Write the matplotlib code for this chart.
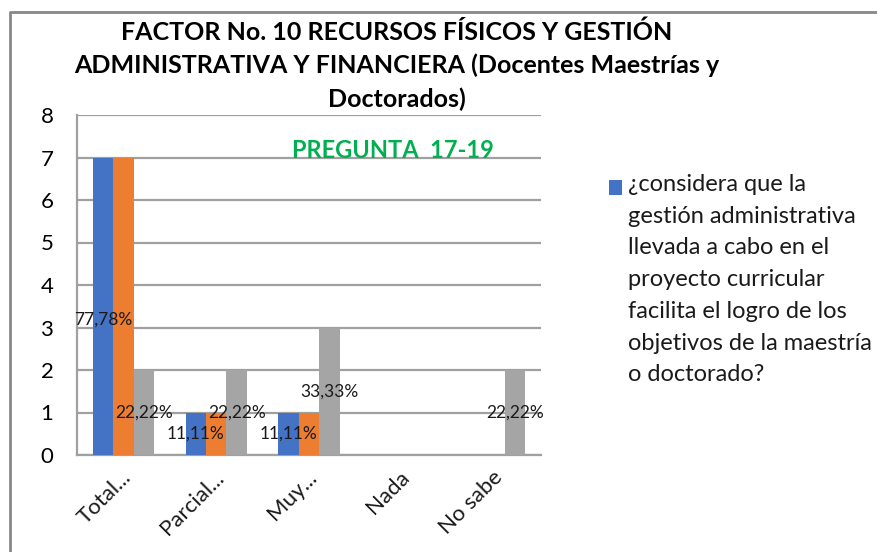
import matplotlib
matplotlib.use("Agg")
import matplotlib.pyplot as plt
import matplotlib.transforms as mtransforms
from matplotlib.lines import Line2D
from matplotlib.patches import Rectangle
import numpy as np

plt.rcParams['font.family'] = ['Lato', 'DejaVu Sans']

categories = ["Total...", "Parcial...", "Muy...", "Nada", "No sabe"]
serie_azul = [7, 1, 1, 0, 0]
serie_naranja = [7, 1, 1, 0, 0]
serie_gris = [2, 2, 3, 0, 2]
etiquetas_azul = ["77,78%", "11,11%", "11,11%", "", ""]
etiquetas_gris = ["22,22%", "22,22%", "33,33%", "", "22,22%"]
yticks = [0, 1, 2, 3, 4, 5, 6, 7, 8]
title = ("FACTOR No. 10 RECURSOS FÍSICOS Y GESTIÓN\n"
         "ADMINISTRATIVA Y FINANCIERA (Docentes Maestrías y\n"
         "Doctorados)")
legend_label = ("¿considera que la\ngestión administrativa\nllevada a cabo en el\n"
                "proyecto curricular\nfacilita el logro de los\nobjetivos de la maestría\n"
                "o doctorado?")
annotation = "PREGUNTA  17-19"

W, H = 878, 552
fig = plt.figure(figsize=(W / 100, H / 100), dpi=100)
fig.patch.set_facecolor('white')

ax = fig.add_axes([77 / W, 1 - 455 / H, 464 / W, 340 / H])

x = np.arange(len(categories))
bw = 0.22
blue, orange, gray = '#4472C4', '#ED7D31', '#A5A5A5'
b1 = ax.bar(x - bw, serie_azul, bw, color=blue, label=legend_label, zorder=3)
b2 = ax.bar(x, serie_naranja, bw, color=orange, zorder=3)
b3 = ax.bar(x + bw, serie_gris, bw, color=gray, zorder=3)

ax.set_xlim(-0.5, len(categories) - 0.5)
ax.set_ylim(0, 8)
ax.set_yticks(yticks)
ax.yaxis.grid(True, color='#a0a0a0', lw=1.6, zorder=0)
ax.set_axisbelow(True)
for s in ['top', 'right']:
    ax.spines[s].set_visible(False)
for s in ['left', 'bottom']:
    ax.spines[s].set_color('#a0a0a0')
    ax.spines[s].set_linewidth(1.6)
ax.tick_params(axis='y', length=0, pad=17, labelsize=16, labelcolor='black')
ax.tick_params(axis='x', length=0, pad=14)
ax.set_xticks(x)
ax.set_xticklabels(categories, rotation=45, ha='right', va='center',
                   rotation_mode='anchor', fontsize=16, color='#1a1a1a')
offset = mtransforms.ScaledTranslation(0.05, 0, fig.dpi_scale_trans)
for lbl in ax.get_xticklabels():
    lbl.set_transform(lbl.get_transform() + offset)

# data labels (centered on bars)
for i, t in enumerate(etiquetas_azul):
    if t:
        yv = serie_azul[i] / 2
        dy = -13 if serie_azul[i] > 5 else 0
        ax.annotate(t, (x[i] - bw, yv), xytext=(0, dy), textcoords='offset pixels',
                    ha='center', va='center', fontsize=12.5, color='#1a1a1a', zorder=5)
for i, t in enumerate(etiquetas_gris):
    if t:
        ax.annotate(t, (x[i] + bw, serie_gris[i] / 2), ha='center', va='center',
                    fontsize=12.5, color='#1a1a1a', zorder=5)

# title
fig.text(397 / W, 1 - 20 / H, title, ha='center', va='top', fontsize=18,
         fontweight='bold', linespacing=1.52, color='black')

# green annotation
fig.text(393 / W, 1 - 158 / H, annotation, ha='center', va='baseline', fontsize=17,
         fontweight='bold', color='#00B050')

# legend (single entry, blue series)
fig.patches.append(Rectangle((609 / W, 1 - 195 / H), 13 / W, 15 / H,
                             transform=fig.transFigure, facecolor=blue,
                             edgecolor='none'))
fig.text(628 / W, 1 - 174 / H, legend_label, ha='left', va='top', fontsize=17,
         linespacing=1.63, color='#1a1a1a')

# chart border (top and left visible)
fig.lines.append(Line2D([10 / W, 10 / W, 1.0], [0.0, 1 - 12 / H, 1 - 12 / H],
                        transform=fig.transFigure, color='#888888', lw=2))

fig.savefig('out.png', dpi=100)
